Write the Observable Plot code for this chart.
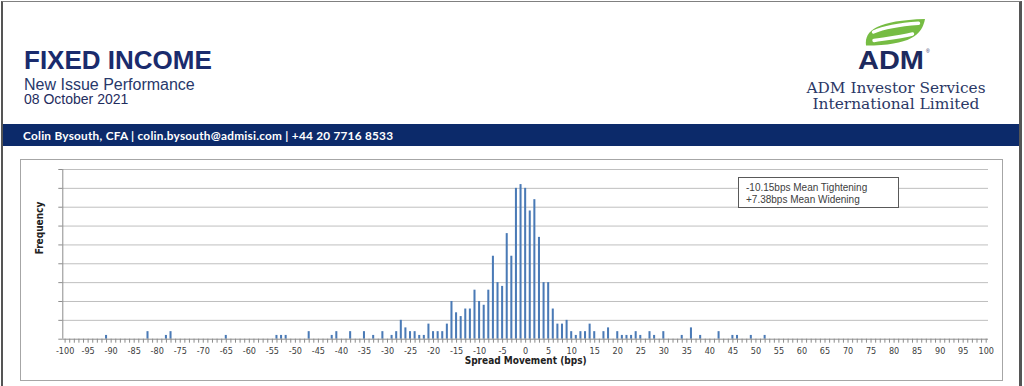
<!DOCTYPE html>
<html><head><meta charset="utf-8">
<script src="https://cdn.jsdelivr.net/npm/d3@7"></script>
<script src="https://cdn.jsdelivr.net/npm/@observablehq/plot@0.6"></script>
<style>
html,body{margin:0;padding:0;background:#fff;}
body{width:1024px;height:386px;position:relative;overflow:hidden;font-family:"Liberation Sans",Arial,sans-serif;}
.abs{position:absolute;}
#legend{left:738px;top:177px;width:159px;height:29px;border:1px solid #595959;background:#fff;font-family:"Liberation Sans",Arial,sans-serif;font-size:10px;color:#404040;line-height:11.7px;padding:0;box-sizing:content-box;}
#legend div{position:absolute;left:7px;white-space:nowrap;}
</style></head><body>
<div class="abs" style="left:1px;top:1px;width:1016px;height:400px;border-left:2px solid #555;border-right:3px solid #555;border-top:1px solid #808080;"></div>
<svg class="abs" style="left:0;top:0" width="1024" height="160">
  <rect x="3" y="124" width="1016" height="22" fill="#0c2a6a"/>
  <text x="24" y="69" font-family="Liberation Sans, Arial, sans-serif" font-weight="bold" font-size="26" fill="#1a2b6d">FIXED INCOME</text>
  <text x="24" y="89.5" font-family="Liberation Sans, Arial, sans-serif" font-size="16" fill="#27386b">New Issue Performance</text>
  <text x="24" y="104.3" font-family="Liberation Sans, Arial, sans-serif" font-size="14" fill="#1f2d5e">08 October 2021</text>
  <text x="23" y="139.5" font-family="Lato, 'Open Sans', sans-serif" font-weight="bold" font-size="11.8" fill="#ffffff" textLength="370" lengthAdjust="spacing">Colin Bysouth, CFA | colin.bysouth@admisi.com | +44 20 7716 8533</text>
  <path d="M866,45.5 C864,30 878,20.5 925,19 C922,35 910,45.5 866,45.5 Z" fill="#76bc43"/>
  <path d="M873.5,32 C886,26.5 901,24.5 918.5,23.3" fill="none" stroke="#ffffff" stroke-width="3.4" stroke-linecap="round"/>
  <path d="M874,40.5 C887,38.5 900,37 912.5,34" fill="none" stroke="#ffffff" stroke-width="3.4" stroke-linecap="round"/>
  <text x="858" y="68.5" font-family="Liberation Sans, Arial, sans-serif" font-weight="bold" font-size="26" fill="#1d2a5e" textLength="66" lengthAdjust="spacingAndGlyphs">ADM</text>
  <text x="926" y="53" font-family="Liberation Sans, Arial, sans-serif" font-size="5" fill="#1d2a5e">®</text>
  <text x="896" y="92.8" text-anchor="middle" font-family="DejaVu Serif, serif" font-size="14.4" fill="#2b3866" textLength="179" lengthAdjust="spacingAndGlyphs">ADM Investor Services</text>
  <text x="896" y="109.3" text-anchor="middle" font-family="DejaVu Serif, serif" font-size="14.4" fill="#2b3866" textLength="167" lengthAdjust="spacingAndGlyphs">International Limited</text>
</svg>
<div class="abs" style="left:20px;top:159px;width:981px;height:220px;border:1px solid #a6a6a6;"></div>
<div class="abs" id="chart" style="left:20px;top:159px;"></div>
<div class="abs" id="legend">
  <div style="top:4px">-10.15bps Mean Tightening</div>
  <div style="top:15.7px">+7.38bps Mean Widening</div>
</div>
<script>
// Spread movement (bps) categories that have at least one new issue, and their frequencies
const spreads = [-91, -82, -78, -77, -65, -54, -53, -52, -47, -42, -41, -38, -35, -33, -31, -29, -28,
  -27, -26, -25, -24, -23, -22, -21, -20, -19, -18, -17, -16, -15, -14, -13, -12, -11, -10, -9, -8,
  -7, -6, -5, -4, -3, -2, -1, 0, 1, 2, 3, 4, 5, 6, 7, 8, 9, 10, 11, 12, 13, 14, 15, 17, 18,
  20, 21, 22, 23, 24, 25, 27, 28, 30, 34, 36, 38, 42, 45, 46, 49, 52];
const counts = [1, 2, 1, 2, 1, 1, 1, 1, 2, 1, 2, 2, 2, 1, 2, 1, 2,
  5, 3, 2, 2, 1, 1, 4, 2, 2, 2, 4, 10, 7, 6, 8, 8, 13, 10, 9, 13,
  22, 15, 14, 28, 22, 40, 41, 40, 34, 37, 27, 15, 15, 8, 4, 4, 5, 2, 1, 2, 2, 4, 2, 2, 3,
  2, 1, 1, 1, 2, 1, 2, 1, 2, 1, 3, 1, 2, 1, 1, 1, 1];
const xTicks = d3.range(-100, 101, 1);
const yTicks = d3.range(0, 46, 5);
const xTitle = "Spread Movement (bps)";
const yTitle = "Frequency";

const data = spreads.map((s, i) => ({spread: s, count: counts[i]}));
const chart = Plot.plot({
  width: 983, height: 222,
  marginLeft: 42.3, marginRight: 15, marginTop: 10, marginBottom: 42.3,
  x: {domain: [-100.5, 100.5]},
  y: {domain: [0, 45]},
  style: {fontFamily: '"Liberation Sans Narrow", "Arial Narrow", "DejaVu Sans Condensed", sans-serif', fontSize: "9px", color: "#404040", background: "transparent", overflow: "visible"},
  marks: [
    Plot.gridY(yTicks.filter(d => d > 0), {stroke: "#bfbfbf", strokeOpacity: 1}),
    Plot.rectY(data, {x1: d => d.spread - 0.22, x2: d => d.spread + 0.22, y: "count", fill: "#4a7ab6"}),
    Plot.ruleY([0], {stroke: "#8c8c8c"}),
    Plot.ruleX([-100.5], {stroke: "#8c8c8c"}),
    Plot.axisY(yTicks, {tickFormat: () => "", tickSize: 4, stroke: "#8c8c8c", label: null}),
    Plot.axisX(xTicks, {tickFormat: d => d % 5 === 0 ? String(d) : "", tickSize: 4, tickPadding: 4.5, stroke: "#8c8c8c", fill: "#404040", label: null}),
    Plot.text([yTitle], {text: d => d, frameAnchor: "left", dx: -23.5, rotate: -90, fontWeight: "bold", fontSize: 10, fill: "#222"}),
    Plot.text([xTitle], {text: d => d, frameAnchor: "bottom", dy: 25, fontWeight: "bold", fontSize: 10, fill: "#222"})
  ]
});
document.getElementById("chart").appendChild(chart);
</script>
</body></html>
